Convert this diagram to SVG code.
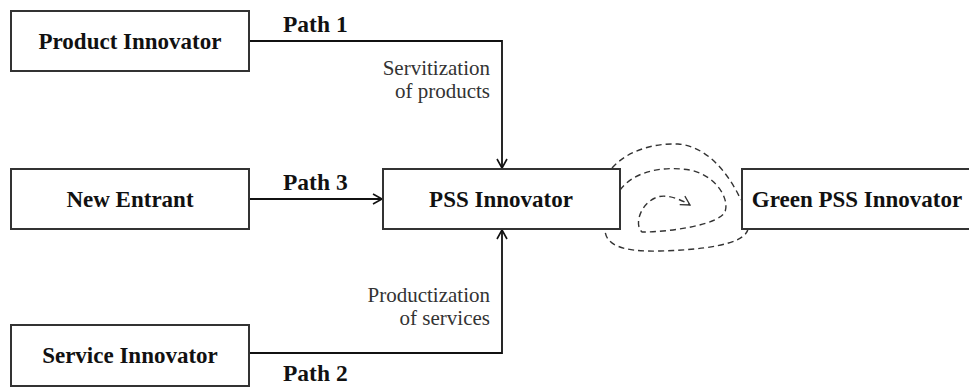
<svg xmlns="http://www.w3.org/2000/svg" width="969" height="387" viewBox="0 0 969 387">
<style>
.box{fill:#fff;stroke:#333;stroke-width:2}
.lbl{font-family:"Liberation Serif",serif;font-weight:bold;font-size:23px;fill:#111;text-anchor:middle}
.path{font-family:"Liberation Serif",serif;font-weight:bold;font-size:23.5px;fill:#111}
.note{font-family:"Liberation Serif",serif;font-size:21px;fill:#333;text-anchor:end}
.conn{fill:none;stroke:#111;stroke-width:1.8}
.dash{fill:none;stroke:#333;stroke-width:1.4;stroke-dasharray:6 4}
</style>
<defs>
<marker id="arr" markerUnits="userSpaceOnUse" markerWidth="14" markerHeight="14" refX="10" refY="6" orient="auto">
<path d="M1,1 L10,6 L1,11" fill="none" stroke="#111" stroke-width="1.6"/>
</marker>
<marker id="arrd" markerUnits="userSpaceOnUse" markerWidth="14" markerHeight="14" refX="10" refY="6" orient="auto">
<path d="M1,1 L10,6 L1,11" fill="none" stroke="#333" stroke-width="1.3"/>
</marker>
</defs>
<g id="connectors">
<path class="conn" d="M249,41 H502 V168" marker-end="url(#arr)"/>
<path class="conn" d="M249,199 H382" marker-end="url(#arr)"/>
<path class="conn" d="M249,353 H502 V230" marker-end="url(#arr)"/>
<path class="dash" d="M612,168 C628,150 655,143 678,144 C705,146 727,170 741,200"/>
<path class="dash" d="M748,229 C745,245 700,250 660,251 C622,252 605,245 605,229"/>
<path class="dash" d="M620,190 C635,170 665,166 690,170 C715,175 730,198 725,212 C718,225 670,232 642,232 C634,225 640,205 655,198 C665,193 680,199 690,205" marker-end="url(#arrd)"/>
<text class="path" x="283" y="32">Path 1</text>
<text class="path" x="283" y="190">Path 3</text>
<text class="path" x="283" y="381">Path 2</text>
<text class="note" x="490" y="75">Servitization</text>
<text class="note" x="490" y="98">of products</text>
<text class="note" x="490" y="302">Productization</text>
<text class="note" x="490" y="325">of services</text>
</g>
<g id="product-innovator">
<rect class="box" x="11" y="11" width="238" height="60"/>
<text class="lbl" x="130" y="49">Product Innovator</text>
</g>
<g id="new-entrant">
<rect class="box" x="11" y="169" width="238" height="60"/>
<text class="lbl" x="130" y="207">New Entrant</text>
</g>
<g id="service-innovator">
<rect class="box" x="11" y="325" width="238" height="61"/>
<text class="lbl" x="130" y="363">Service Innovator</text>
</g>
<g id="pss-innovator">
<rect class="box" x="383" y="169" width="237" height="60"/>
<text class="lbl" x="501" y="207">PSS Innovator</text>
</g>
<g id="green-pss-innovator">
<rect class="box" x="742" y="169" width="240" height="60"/>
<text class="lbl" x="857" y="207">Green PSS Innovator</text>
</g>
</svg>
